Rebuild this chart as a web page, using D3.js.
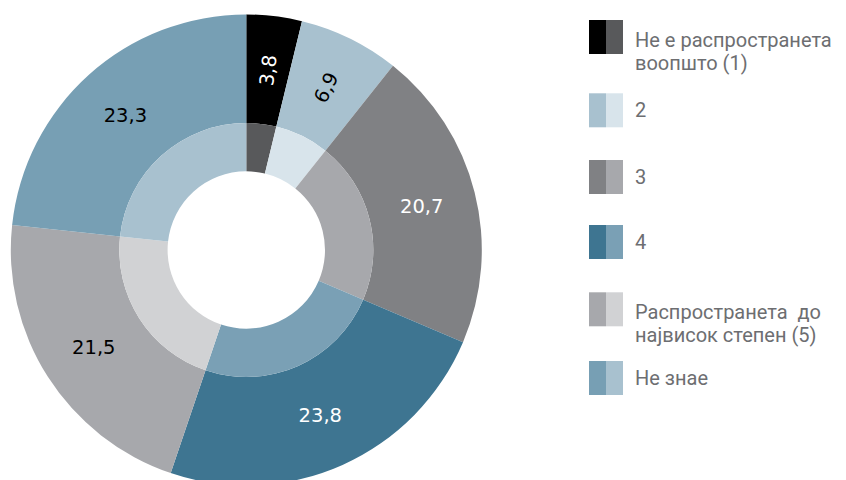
<!DOCTYPE html>
<html><head><meta charset="utf-8">
<script src="https://cdn.jsdelivr.net/npm/d3@7/dist/d3.min.js"></script>
<style>body{margin:0;background:#fff}svg{display:block}text{white-space:pre}</style>
</head><body>
<svg id="c" width="846" height="480"></svg>
<script>
const categories = [
  ["Не е распространета", "воопшто (1)"],
  ["2"],
  ["3"],
  ["4"],
  ["Распространета  до", "највисок степен (5)"],
  ["Не знае"]
];
const values = [3.8, 6.9, 20.7, 23.8, 21.5, 23.3];
const valueLabels = ["3,8", "6,9", "20,7", "23,8", "21,5", "23,3"];
const outerColors = ["#000000", "#a8c1cf", "#808184", "#3e7591", "#a7a8ac", "#779fb4"];
const innerColors = ["#58595b", "#d8e4eb", "#a7a8ac", "#7aa0b5", "#d1d2d4", "#a8c1cf"];
const labelColors = ["#ffffff", "#000000", "#ffffff", "#ffffff", "#000000", "#000000"];
const rotated = [true, true, false, false, false, false];

const svg = d3.select("#c");
const cx = 246.3, cy = 250;
const g = svg.append("g").attr("transform", `translate(${cx},${cy})`);
const pie = d3.pie().sort(null).value(d => d);
const arcs = pie(values);
const outerArc = d3.arc().innerRadius(127).outerRadius(235.5);
const innerArc = d3.arc().innerRadius(78.7).outerRadius(127);

g.selectAll("path.o").data(arcs).join("path").attr("class", "o")
  .attr("d", outerArc).attr("fill", (d, i) => outerColors[i]);
g.selectAll("path.i").data(arcs).join("path").attr("class", "i")
  .attr("d", innerArc).attr("fill", (d, i) => innerColors[i]);

const labArc = d3.arc().innerRadius(127).outerRadius(235);
g.selectAll("text.v").data(arcs).join("text").attr("class", "v")
  .attr("transform", (d, i) => {
    const [x, y] = labArc.centroid(d);
    const a = (d.startAngle + d.endAngle) / 2 * 180 / Math.PI;
    return `translate(${x},${y})` + (rotated[i] ? ` rotate(${a - 90})` : "");
  })
  .attr("text-anchor", "middle").attr("dy", "0.36em")
  .attr("font-family", "DejaVu Sans, sans-serif").attr("font-size", 19.5)
  .attr("fill", (d, i) => labelColors[i])
  .text((d, i) => valueLabels[i]);

// legend
const legendY = [20, 93.3, 160, 225, 292.3, 361];
const lx = 589, sw = 17, sh = 34, tx = 635;
const lg = svg.append("g");
categories.forEach((lines, i) => {
  const y = legendY[i];
  lg.append("rect").attr("x", lx).attr("y", y).attr("width", sw).attr("height", sh).attr("fill", outerColors[i]);
  lg.append("rect").attr("x", lx + sw).attr("y", y).attr("width", sw).attr("height", sh).attr("fill", innerColors[i]);
  const t = lg.append("text").attr("font-family", "Roboto, sans-serif").attr("font-size", 20)
    .attr("fill", "#6d6e71");
  if (lines.length === 1) {
    t.append("tspan").attr("x", tx).attr("y", y + sh / 2 + 7).text(lines[0]);
  } else {
    lines.forEach((s, k) => t.append("tspan").attr("x", tx).attr("y", y + 26.5 + k * 23.5).text(s));
  }
});
</script>
</body></html>
